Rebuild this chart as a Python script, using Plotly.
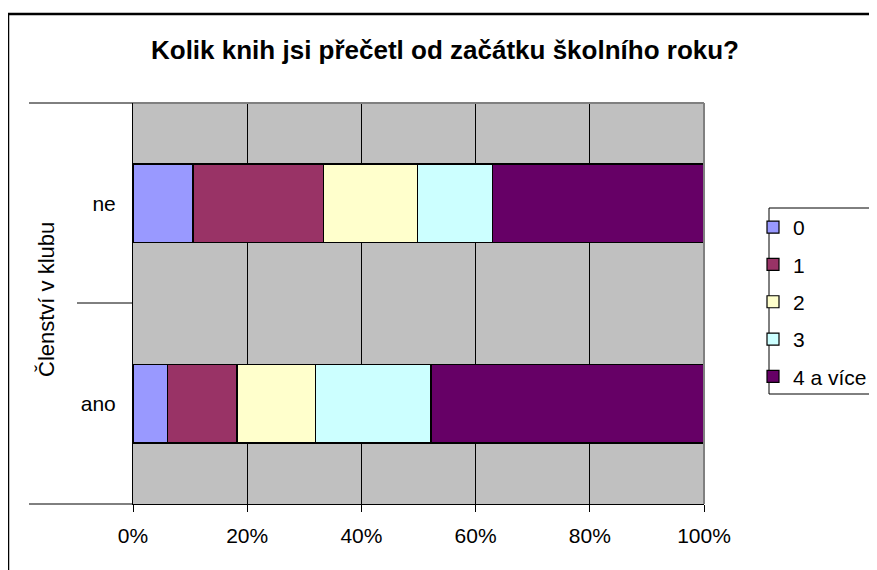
import plotly.graph_objects as go

categories = ["ano", "ne"]
series_names = ["0", "1", "2", "3", "4 a více"]
s0 = [6.0, 10.5]
s1 = [12.2, 22.8]
s2 = [13.7, 16.5]
s3 = [20.3, 13.1]
s4 = [47.8, 37.1]
series_values = [s0, s1, s2, s3, s4]
colors = ["#9999FF", "#993366", "#FFFFCC", "#CCFFFF", "#660066"]
x_ticks = [0, 20, 40, 60, 80, 100]
x_tick_labels = ["0%", "20%", "40%", "60%", "80%", "100%"]

OFF = 8  # page body margin
W, H = 877 - OFF, 570 - OFF
# plot area in screen pixels: x 133..703.5, y 103..504
L, T = 133 - OFF, 103 - OFF
R = 877 - 704
B = 570 - 504
pw, ph = W - L - R, H - T - B

def px(x):  # screen x -> paper
    return (x - OFF - L) / pw

def py(y):  # screen y -> paper
    return (H - B - (y - OFF)) / ph

FONT = "Liberation Sans, Arial, sans-serif"

fig = go.Figure()
for name, vals, c in zip(series_names, series_values, colors):
    fig.add_trace(go.Bar(
        y=categories, x=vals, name=name, orientation="h",
        marker=dict(color=c, line=dict(color="black", width=1.2)),
        legendgroup=name,
    ))

shapes = [
    # outer chart border (clipped on right/bottom)
    dict(type="rect", xref="paper", yref="paper", x0=px(8), x1=px(920), y0=py(620), y1=py(14),
         line=dict(color="black", width=2.5), fillcolor="rgba(0,0,0,0)", layer="above"),
    # legend box
    dict(type="rect", xref="paper", yref="paper", x0=px(769), x1=px(920), y0=py(394), y1=py(208),
         line=dict(color="black", width=1), fillcolor="white", layer="above"),
    # left category boundary lines
    dict(type="line", xref="paper", yref="paper", x0=px(29), x1=0, y0=py(103), y1=py(103),
         line=dict(color="black", width=1)),
    dict(type="line", xref="paper", yref="paper", x0=px(77), x1=0, y0=py(303), y1=py(303),
         line=dict(color="black", width=1)),
    dict(type="line", xref="paper", yref="paper", x0=px(29), x1=0, y0=0, y1=0,
         line=dict(color="black", width=1)),
    # plot area border grey top/right
    dict(type="line", xref="paper", yref="paper", x0=0, x1=1, y0=1, y1=1,
         line=dict(color="#808080", width=2)),
    dict(type="line", xref="paper", yref="paper", x0=1, x1=1, y0=0, y1=1,
         line=dict(color="#808080", width=2)),
]

fig.update_layout(
    width=W, height=H,
    margin=dict(l=L, r=R, t=T, b=B, autoexpand=False),
    paper_bgcolor="white",
    plot_bgcolor="#C0C0C0",
    barmode="stack",
    bargap=0.609,
    font=dict(family=FONT, size=21, color="black"),
    title=dict(text="<b>Kolik knih jsi přečetl od začátku školního roku?</b>",
               x=(445 - OFF) / W, xanchor="center", y=1 - (50 - OFF) / H, yanchor="middle",
               font=dict(family=FONT, size=26, color="black")),
    xaxis=dict(range=[0, 100], tickvals=x_ticks, ticktext=x_tick_labels,
               showgrid=True, gridcolor="black", gridwidth=1,
               showline=True, linecolor="black", linewidth=1,
               ticks="outside", ticklen=7, tickcolor="black",
               ticklabelstandoff=6, zeroline=False, fixedrange=True,
               tickfont=dict(size=21)),
    yaxis=dict(categoryorder="array", categoryarray=categories,
               showgrid=False, showline=True, linecolor="black", linewidth=1,
               ticks="", ticklabelstandoff=12, zeroline=False,
               tickfont=dict(size=21)),
    legend=dict(x=px(753), y=py(207), xanchor="left", yanchor="top",
                borderwidth=0, bgcolor="rgba(0,0,0,0)",
                traceorder="grouped", tracegroupgap=7,
                font=dict(size=21, family=FONT)),
    shapes=shapes,
    annotations=[dict(text="Členství v klubu", xref="paper", yref="paper",
                      x=px(46), y=py(300), textangle=-90, showarrow=False,
                      xanchor="center", yanchor="middle",
                      font=dict(size=22, family=FONT))],
)

fig.write_html("out.html")
